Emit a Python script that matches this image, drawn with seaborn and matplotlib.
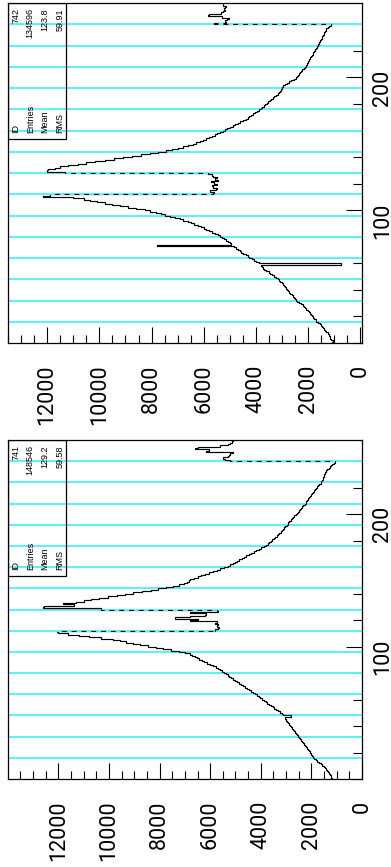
import numpy as np
import pandas as pd
import matplotlib
matplotlib.use("Agg")
import matplotlib.pyplot as plt
import seaborn as sns
from matplotlib.ticker import FixedLocator, MultipleLocator
from matplotlib.patches import Rectangle

# ---------------- data ----------------
channels = list(range(256))          # histogram channels (bin i spans [i, i+1))
channel_edges = list(range(257))

counts_742 = [
    1080, 1060, 1120, 1150, 1180, 1210, 1200, 1260, 1310, 1340, 1380, 1420, 1460, 1520, 1560, 1620,
    1690, 1720, 1780, 1800, 1850, 1900, 1940, 1970, 2020, 2080, 2120, 2150, 2200, 2280, 2350, 2420,
    2480, 2500, 2550, 2600, 2640, 2680, 2720, 2780, 2820, 2850, 2880, 2940, 2980, 3020, 3080, 3120,
    3170, 3220, 3320, 3380, 3450, 3520, 3600, 3680, 3720, 3760, 3810, 760, 3900, 4000, 4080, 4150,
    4250, 4320, 4400, 4480, 4560, 4620, 4700, 4760, 4840, 7800, 4950, 5000, 5080, 5150, 5230, 5300,
    5380, 5450, 5560, 5680, 5800, 5900, 6000, 6120, 6240, 6380, 6500, 6620, 6800, 6930, 7100, 7300,
    7500, 7650, 7850, 8050, 8270, 8600, 8900, 9200, 9500, 9800, 10100, 10350, 10600, 11000, 12150, 11900,
    5660, 5600, 5750, 5550, 5500, 5650, 5700, 5480, 5600, 5720, 5450, 5580, 5500, 5650, 5700, 5850,
    11300, 12000, 11950, 11700, 11500, 11200, 10800, 10500, 10150, 9800, 9450, 9100, 8750, 8400, 8050, 7750,
    7440, 7200, 6980, 6780, 6600, 6430, 6280, 6150, 6030, 5920, 5800, 5680, 5580, 5480, 5380, 5280,
    5200, 5100, 5000, 4900, 4800, 4700, 4600, 4480, 4390, 4310, 4250, 4180, 4100, 4020, 3950, 3880,
    3820, 3760, 3700, 3640, 3590, 3540, 3480, 3420, 3360, 3300, 3220, 3160, 3110, 3080, 3040, 3010,
    2990, 2950, 2880, 2800, 2720, 2650, 2560, 2480, 2420, 2380, 2340, 2300, 2260, 2220, 2170, 2120,
    2090, 2060, 2030, 2000, 1980, 1960, 1920, 1880, 1850, 1830, 1800, 1770, 1740, 1710, 1680, 1650,
    1630, 1600, 1570, 1540, 1520, 1490, 1460, 1440, 1410, 1390, 1360, 1330, 1300, 1250, 1200, 1140,
    5600, 5150, 5200, 5100, 5050, 5300, 5850, 5800, 5340, 5250, 5200, 5220, 5180, 5150, 5250, 5280,
]

counts_741 = [
    1180, 1210, 1230, 1260, 1300, 1340, 1380, 1420, 1470, 1520, 1580, 1630, 1700, 1760, 1820, 1880,
    1930, 1960, 2000, 2030, 2070, 2100, 2140, 2180, 2220, 2260, 2300, 2340, 2380, 2420, 2460, 2500,
    2530, 2560, 2600, 2640, 2680, 2720, 2750, 2790, 2830, 2870, 2910, 2950, 2990, 3030, 3060, 2800,
    3120, 3180, 3250, 3320, 3390, 3460, 3530, 3600, 3670, 3740, 3810, 3880, 3950, 4020, 4090, 4160,
    4230, 4300, 4380, 4460, 4540, 4620, 4700, 4780, 4860, 4940, 5020, 5100, 5170, 5240, 5310, 5390,
    5460, 5520, 5600, 5690, 5780, 5880, 5990, 6110, 6230, 6340, 6430, 6520, 6610, 6700, 6800, 7000,
    7250, 7550, 7850, 8150, 8450, 8780, 9050, 9320, 9580, 9850, 10300, 10800, 11200, 11600, 12000, 12050,
    5800, 5700, 5650, 5750, 5700, 5800, 5750, 6800, 6500, 7400, 6800, 6200, 6150, 6800, 5700, 5750,
    10300, 12600, 12550, 11400, 11800, 11300, 11000, 10700, 10400, 10050, 9700, 9350, 9050, 8700, 8350, 8050,
    7730, 7480, 7250, 7020, 6900, 6830, 6780, 6620, 6480, 6350, 6200, 6050, 5900, 5750, 5600, 5450,
    5300, 5200, 5110, 5020, 4940, 4850, 4760, 4680, 4590, 4470, 4380, 4280, 4180, 4080, 3980, 3880,
    3780, 3720, 3660, 3600, 3540, 3480, 3420, 3370, 3320, 3270, 3220, 3170, 3120, 3070, 3030, 2980,
    2940, 2920, 2870, 2820, 2770, 2720, 2670, 2620, 2580, 2530, 2490, 2450, 2400, 2360, 2320, 2270,
    2230, 2200, 2160, 2120, 2080, 2040, 2000, 1960, 1920, 1880, 1840, 1800, 1760, 1720, 1680, 1640,
    1610, 1590, 1560, 1540, 1520, 1500, 1480, 1470, 1420, 1370, 1320, 1270, 1220, 1170, 1120, 1080,
    5230, 5400, 5500, 5300, 5250, 5200, 5100, 6150, 6050, 6600, 6500, 5600, 5300, 5230, 5150, 5100,
]

stat_names = ["ID", "Entries", "Mean", "RMS"]
stats_742 = ["742", "134596", "123.8", "59.91"]
stats_741 = ["741", "148546", "129.2", "59.58"]

chip_bounds = [16, 32, 48, 64, 80, 96, 112, 128, 144, 160, 176, 192, 208, 224, 240]
count_ticks = [0, 2000, 4000, 6000, 8000, 10000, 12000]
channel_ticks = [100, 200]

# ---------------- style ----------------
sns.set_theme(style="white")
plt.rcParams['font.family'] = ['Roboto', 'DejaVu Sans']

CYAN = "#5ef2f8"
W, H = 391, 867

fig = plt.figure(figsize=(W / 100, H / 100), dpi=100)
ax_top = fig.add_axes([8 / W, 1 - 343 / H, 354 / W, 340 / H])
ax_bot = fig.add_axes([8 / W, 1 - 779 / H, 354 / W, 339 / H])


def draw_panel(ax, counts, stats, cmax, cmin):
    df = pd.DataFrame({"channel": [c + 0.5 for c in channels], "counts": counts})
    for b in chip_bounds:
        ax.axhline(b, color=CYAN, lw=1.5, zorder=1)
    sns.histplot(data=df, y="channel", weights="counts", bins=channel_edges,
                 element="step", fill=False, color="black", linewidth=0.85,
                 ax=ax, zorder=3)
    # big jumps at chip boundaries appear dashed (cyan over the edge)
    for b in chip_bounds:
        c0, c1 = counts[b - 1], counts[b]
        if abs(c1 - c0) > 3000:
            ax.plot([c0, c1], [b, b], color=CYAN, lw=1.6,
                    ls=(0, (2.2, 2.2)), zorder=4)

    ax.set_xlim(cmax, cmin)
    ax.set_ylim(0, 256)
    ax.set_xlabel("")
    ax.set_ylabel("")

    ax.xaxis.set_major_locator(FixedLocator(count_ticks))
    ax.xaxis.set_minor_locator(MultipleLocator(500))
    ax.yaxis.set_major_locator(FixedLocator(channel_ticks))
    ax.yaxis.set_minor_locator(MultipleLocator(20))

    ax.tick_params(axis="x", which="both", direction="in", bottom=True, top=False,
                   color="black", width=0.8)
    ax.tick_params(axis="x", which="major", length=11.5, pad=15.5,
                   labelsize=15.5, labelrotation=90, labelcolor="black")
    ax.tick_params(axis="x", which="minor", length=5.8)
    ax.tick_params(axis="y", which="both", direction="in", left=False, right=True,
                   labelleft=False, labelright=True, color="black", width=0.8)
    ax.tick_params(axis="y", which="major", length=11.5, pad=7,
                   labelsize=15.5, labelrotation=90, labelcolor="black")
    ax.tick_params(axis="y", which="minor", length=6.5)

    for sp in ax.spines.values():
        sp.set_color("black")
        sp.set_linewidth(0.9)
        sp.set_visible(True)

    # statistics box (upper-right corner of the unrotated histogram)
    ax.add_patch(Rectangle((0, 0.6), 0.164, 0.4, transform=ax.transAxes,
                           fill=False, edgecolor="black", lw=0.9, zorder=2))
    cols = [0.0226, 0.063, 0.1045, 0.147]
    for x, name, val in zip(cols, stat_names, stats):
        ax.text(x, 0.617, name, transform=ax.transAxes, rotation=90,
                ha="center", va="bottom", fontsize=6.5, color="black",
                family=["Liberation Sans", "DejaVu Sans"], zorder=2)
        ax.text(x, 0.985, val, transform=ax.transAxes, rotation=90,
                ha="center", va="top", fontsize=6.5, color="black",
                family=["Liberation Sans", "DejaVu Sans"], zorder=2)


draw_panel(ax_top, counts_742, stats_742, 13500, -60)
draw_panel(ax_bot, counts_741, stats_741, 13990, 0)

fig.savefig("out.png", dpi=100, facecolor="white")
